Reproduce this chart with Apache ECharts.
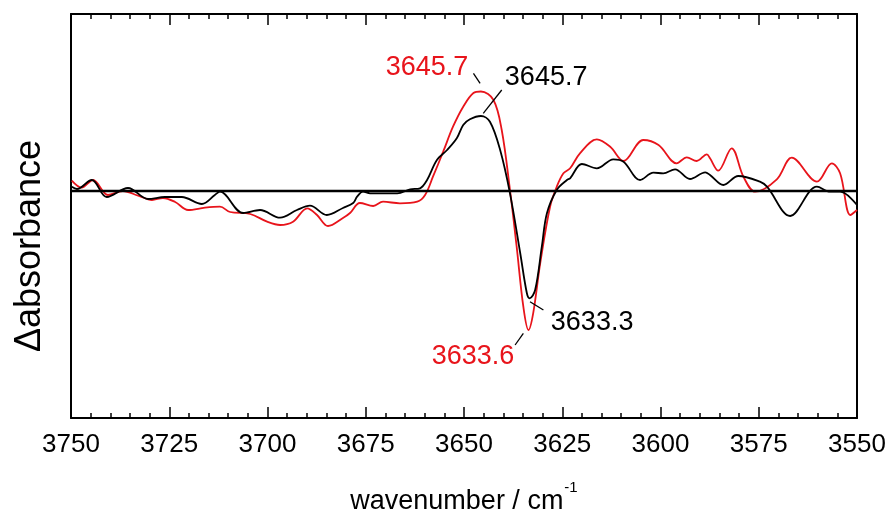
<!DOCTYPE html>
<html>
<head>
<meta charset="utf-8">
<script src="https://cdn.jsdelivr.net/npm/echarts@6/dist/echarts.min.js"></script>
<style>
html,body{margin:0;padding:0;background:#fff;}
#chart{width:892px;height:512px;}
</style>
</head>
<body>
<div id="chart"></div>
<script>
// wavenumber (cm^-1) and Δabsorbance (arb. units)
var wnBlack = [3749.8,3748.5,3744.7,3740.9,3735.5,3730.4,3726.1,3721.8,3716.7,3713.4,3712.1,3706.2,3701.9,3696.8,3692.5,3689.2,3684.9,3680.8,3678.2,3677.2,3675.7,3673.9,3670.6,3667.0,3663.7,3661.2,3659.4,3656.9,3654.3,3651.8,3650.2,3648.5,3645.7,3643.4,3640.8,3638.3,3635.7,3634.0,3633.3,3631.9,3630.2,3628.9,3626.4,3623.8,3623.0,3620.0,3616.2,3612.0,3609.4,3605.2,3601.8,3599.3,3596.3,3592.5,3588.6,3587.4,3584.0,3580.2,3574.7,3572.9,3567.0,3560.2,3556.8,3554.3,3550.0];
var absBlack = [0.038,0.015,0.105,-0.065,0.025,-0.085,-0.065,-0.065,-0.135,-0.045,-0.012,-0.225,-0.195,-0.272,-0.195,-0.152,-0.245,-0.175,-0.125,-0.062,-0.012,-0.028,-0.028,-0.028,0.012,0.022,0.105,0.305,0.405,0.525,0.655,0.712,0.745,0.688,0.405,-0.028,-0.625,-1.028,-1.078,-0.995,-0.562,-0.228,0.005,0.105,0.122,0.265,0.222,0.312,0.288,0.105,0.178,0.172,0.212,0.115,0.182,0.155,0.055,0.145,0.088,0.038,-0.255,0.038,-0.012,-0.012,-0.145];

var wnRed = [3749.8,3747.3,3744.4,3740.6,3736.8,3732.9,3729.4,3726.6,3723.5,3720.2,3715.9,3712.1,3709.5,3704.4,3700.1,3696.8,3693.5,3689.9,3687.4,3684.6,3680.8,3679.0,3676.5,3673.1,3670.6,3666.3,3661.9,3659.9,3657.9,3655.3,3652.8,3650.2,3647.6,3645.7,3642.5,3640.4,3638.3,3636.6,3634.9,3633.6,3632.4,3630.6,3628.1,3626.4,3624.7,3623.0,3620.5,3616.2,3612.8,3609.4,3604.4,3600.5,3595.9,3593.3,3590.8,3588.2,3587.4,3585.3,3581.9,3578.9,3575.9,3570.4,3566.6,3560.2,3556.4,3554.3,3551.7,3550.0];
var absRed = [0.098,0.028,0.105,-0.045,-0.005,-0.052,-0.095,-0.075,-0.115,-0.195,-0.172,-0.162,-0.215,-0.235,-0.312,-0.345,-0.312,-0.178,-0.245,-0.355,-0.275,-0.225,-0.125,-0.155,-0.112,-0.128,-0.112,-0.045,0.138,0.388,0.638,0.838,0.975,0.99,0.905,0.605,0.005,-0.562,-1.162,-1.395,-1.228,-0.725,-0.162,0.038,0.172,0.222,0.372,0.512,0.438,0.295,0.505,0.455,0.272,0.332,0.295,0.362,0.322,0.198,0.422,0.138,-0.012,0.112,0.328,0.088,0.272,0.172,-0.245,-0.195];

var xTickLabels = ['3750','3725','3700','3675','3650','3625','3600','3575','3550'];

// peak annotations: text, text anchor, leader line start/end (data coords)
var annBlack = [
  {text:'3645.7', at:[3629.1,1.125], from:[3640.4,1.005], to:[3645.1,0.772]},
  {text:'3633.3', at:[3617.4,-1.325], from:[3629.8,-1.195], to:[3633.2,-1.112]}
];
var annRed = [
  {text:'3645.7', at:[3659.4,1.225], from:[3647.6,1.172], to:[3645.9,1.072]},
  {text:'3633.6', at:[3647.7,-1.665], from:[3637.0,-1.545], to:[3634.9,-1.428]}
];
var baselineValue = 0;

var FONT = '"Liberation Sans", Arial, Helvetica, sans-serif';

function pairs(xs, ys){ var o=[]; for(var i=0;i<xs.length;i++) o.push([xs[i], ys[i]]); return o; }
function leaders(arr){ return arr.map(function(a){ return [{coord:a.from},{coord:a.to}]; }); }
function texts(arr){ return arr.map(function(a){ return {coord:a.at, value:a.text}; }); }

var chart = echarts.init(document.getElementById('chart'), null, {renderer:'canvas'});

var xCommon = {
  type:'value', inverse:true, min:3550, max:3750, interval:25,
  splitLine:{show:false},
  axisLine:{show:true, onZero:false, lineStyle:{color:'#000', width:2}},
  axisTick:{show:true, inside:true, length:11, lineStyle:{color:'#000', width:1.5}},
  minorTick:{show:true, splitNumber:5, length:5, lineStyle:{color:'#000', width:1.5}},
  minorSplitLine:{show:false}
};

var option = {
  backgroundColor:'#fff',
  animation:false,
  grid:{left:71, right:35, top:14, bottom:94, show:false, containLabel:false, outerBoundsMode:'none'},
  xAxis:[
    Object.assign({}, xCommon, {
      position:'bottom',
      axisLabel:{show:true, color:'#000', fontSize:26, fontFamily:FONT, margin:14,
        formatter:function(v){ var s=String(v); return xTickLabels.indexOf(s)>=0 ? s : ''; }},
      name:'{t|wavenumber / cm}{s|-1}', nameLocation:'middle', nameGap:62,
      nameTextStyle:{rich:{t:{fontSize:27, fontFamily:FONT, color:'#000', padding:[8,0,0,0]}, s:{fontSize:15, fontFamily:FONT, color:'#000', verticalAlign:'top', padding:[0,0,14,1]}}}
    }),
    Object.assign({}, xCommon, {position:'top', axisLabel:{show:false}})
  ],
  yAxis:[
    {type:'value', min:-2.275, max:1.765, position:'left',
     splitLine:{show:false}, axisTick:{show:false}, axisLabel:{show:false},
     axisLine:{show:true, onZero:false, lineStyle:{color:'#000', width:2}}},
    {type:'value', min:-2.275, max:1.765, position:'right',
     splitLine:{show:false}, axisTick:{show:false}, axisLabel:{show:false},
     axisLine:{show:true, onZero:false, lineStyle:{color:'#000', width:2}}}
  ],
  graphic:[
    {type:'text', x:30, y:246, rotation:Math.PI/2,
     style:{text:'Δabsorbance', fontSize:36, fontFamily:FONT, fill:'#000', align:'center', verticalAlign:'middle'}}
  ],
  series:[
    {name:'red', type:'line', data:pairs(wnRed, absRed), showSymbol:false, smooth:0.35,
     lineStyle:{color:'#e8141b', width:1.8}, itemStyle:{color:'#e8141b'}, z:3,
     markLine:{silent:true, symbol:['none','none'], label:{show:false},
       lineStyle:{color:'#000', width:1.3, type:'solid'}, data:leaders(annRed)},
     markPoint:{silent:true, symbol:'circle', symbolSize:0, itemStyle:{color:'transparent'},
       label:{show:true, position:'inside', color:'#e8141b', fontSize:27, fontFamily:FONT, formatter:'{c}'},
       data:texts(annRed)}
    },
    {name:'black', type:'line', data:pairs(wnBlack, absBlack), showSymbol:false, smooth:0.35,
     lineStyle:{color:'#000', width:1.8}, itemStyle:{color:'#000'}, z:4,
     markLine:{silent:true, symbol:['none','none'], label:{show:false},
       lineStyle:{color:'#000', width:1.3, type:'solid'}, data:leaders(annBlack)},
     markPoint:{silent:true, symbol:'circle', symbolSize:0, itemStyle:{color:'transparent'},
       label:{show:true, position:'inside', color:'#000', fontSize:27, fontFamily:FONT, formatter:'{c}'},
       data:texts(annBlack)}
    },
    {name:'baseline', type:'line', data:[], z:5,
     markLine:{silent:true, symbol:['none','none'], label:{show:false},
       lineStyle:{color:'#000', width:2.4, type:'solid'}, data:[{yAxis:baselineValue}]}
    }
  ]
};
chart.setOption(option);
</script>
</body>
</html>
